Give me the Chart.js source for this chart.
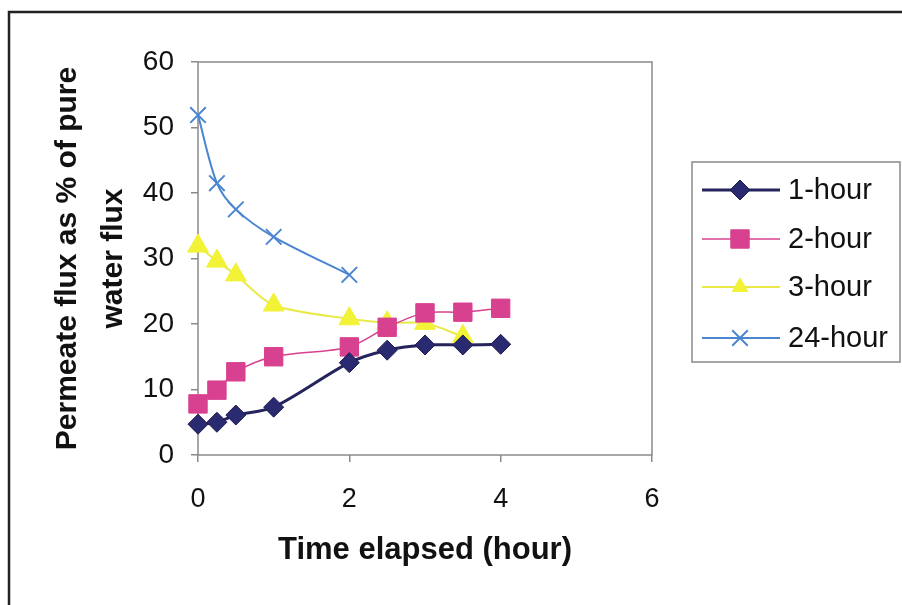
<!DOCTYPE html>
<html>
<head>
<meta charset="utf-8">
<script src="https://cdn.jsdelivr.net/npm/chart.js@4/dist/chart.umd.min.js"></script>
<style>
  html, body { margin: 0; padding: 0; background: #fff; }
  #wrap { width: 902px; height: 605px; }
</style>
</head>
<body>
<div id="wrap"><canvas id="grafico" width="902" height="605"></canvas></div>
<script>
// datos
const horas = [0, 0.25, 0.5, 1, 2, 2.5, 3, 3.5, 4];
const flujo1h = [4.7, 5.0, 6.1, 7.3, 14.1, 16.0, 16.8, 16.8, 16.9];
const flujo2h = [7.8, 9.9, 12.7, 15.0, 16.5, 19.5, 21.7, 21.8, 22.4];
const horas3h = [0, 0.25, 0.5, 1, 2, 2.5, 3, 3.5];
const flujo3h = [31.9, 29.6, 27.5, 22.9, 20.8, 20.2, 20.1, 18.1];
const horas24h = [0, 0.25, 0.5, 1, 2];
const flujo24h = [51.9, 41.5, 37.5, 33.3, 27.5];
const etiquetas = ["1-hour", "2-hour", "3-hour", "24-hour"];
const ticksX = [0, 2, 4, 6];

function pares(xs, ys) {
    return xs.map((x, i) => ({ x: x, y: ys[i] }));
}

const fuente = "'Liberation Sans', Arial, sans-serif";

// marco exterior y borde del area del grafico
const marco = {
    id: 'marco',
    beforeDraw(chart) {
        const ctx = chart.ctx;
        ctx.save();
        ctx.fillStyle = '#fff';
        ctx.fillRect(0, 0, chart.width, chart.height);
        ctx.strokeStyle = '#222';
        ctx.lineWidth = 2.5;
        ctx.beginPath();
        ctx.moveTo(9, 605);
        ctx.lineTo(9, 12);
        ctx.lineTo(902, 12);
        ctx.stroke();
        ctx.restore();
    },
    beforeDatasetsDraw(chart) {
        const a = chart.chartArea;
        const ctx = chart.ctx;
        ctx.save();
        ctx.strokeStyle = '#8a8a8a';
        ctx.lineWidth = 1.5;
        ctx.strokeRect(a.left, a.top, a.right - a.left, a.bottom - a.top);
        ctx.restore();
    }
};

// leyenda con linea y marcador como en Excel
const leyenda = {
    id: 'leyenda',
    afterDraw(chart) {
        const ctx = chart.ctx;
        ctx.save();
        ctx.strokeStyle = '#8a8a8a';
        ctx.lineWidth = 1.5;
        ctx.strokeRect(692, 162, 208, 200);
        const filas = [190, 239, 287, 338];
        chart.data.datasets.forEach((ds, i) => {
            const y = filas[i];
            ctx.strokeStyle = ds.borderColor;
            ctx.lineWidth = ds.borderWidth;
            ctx.beginPath();
            ctx.moveTo(702, y);
            ctx.lineTo(780, y);
            ctx.stroke();
            ctx.fillStyle = ds.pointBackgroundColor;
            ctx.strokeStyle = ds.pointBorderColor;
            ctx.lineWidth = ds.pointBorderWidth;
            Chart.helpers.drawPoint(ctx, {
                pointStyle: ds.pointStyle,
                radius: ds.pointStyle === 'triangle' ? 9 : ds.pointRadius,
                rotation: 0,
                borderWidth: ds.pointBorderWidth
            }, 740, y);
            ctx.fillStyle = '#111';
            ctx.font = '29px ' + fuente;
            ctx.textBaseline = 'middle';
            ctx.textAlign = 'left';
            ctx.fillText(ds.label, 788, y + 1);
        });
        ctx.restore();
    }
};

const ctx = document.getElementById('grafico');

let grafico = new Chart(ctx, {
    type: 'line',
    data: {
        datasets: [{
            label: etiquetas[0],
            data: pares(horas, flujo1h),
            borderColor: '#25245e',
            borderWidth: 3,
            pointStyle: 'rectRot',
            pointRadius: 10,
            pointBackgroundColor: '#2a2a70',
            pointBorderColor: '#1d1d50',
            pointBorderWidth: 1
        }, {
            label: etiquetas[1],
            data: pares(horas, flujo2h),
            borderColor: '#d8418f',
            borderWidth: 1.5,
            pointStyle: 'rect',
            pointRadius: 13,
            pointBackgroundColor: '#d8418f',
            pointBorderColor: '#d8418f',
            pointBorderWidth: 1
        }, {
            label: etiquetas[2],
            data: pares(horas3h, flujo3h),
            borderColor: '#e9ea4a',
            borderWidth: 2,
            pointStyle: 'triangle',
            pointRadius: 12,
            pointBackgroundColor: '#f2f236',
            pointBorderColor: '#f2f236',
            pointBorderWidth: 1
        }, {
            label: etiquetas[3],
            data: pares(horas24h, flujo24h),
            borderColor: '#4a86d0',
            borderWidth: 2,
            pointStyle: 'crossRot',
            pointRadius: 11,
            pointBackgroundColor: '#4a86d0',
            pointBorderColor: '#4a86d0',
            pointBorderWidth: 2
        }]
    },
    options: {
        responsive: false,
        animation: false,
        layout: { padding: { left: 0, right: 250, top: 62, bottom: 0 } },
        elements: { line: { tension: 0.3 } },
        datasets: { line: { clip: false } },
        plugins: {
            legend: { display: false },
            tooltip: { enabled: false }
        },
        scales: {
            x: {
                type: 'linear',
                min: 0,
                max: 6,
                afterBuildTicks: (s) => { s.ticks = ticksX.map(v => ({ value: v })); },
                afterFit: (s) => { s.height = 150; },
                grid: { drawOnChartArea: false, tickLength: 7, color: '#8a8a8a', lineWidth: 1.5 },
                border: { display: false },
                ticks: { color: '#111', padding: 21, font: { family: fuente, size: 27 } },
                title: {
                    display: true,
                    text: 'Time elapsed (hour)',
                    color: '#111',
                    font: { family: fuente, size: 31, weight: 'bold' },
                    padding: { top: 0, bottom: 36 }
                }
            },
            y: {
                min: 0,
                max: 60,
                ticks: { stepSize: 10, color: '#111', padding: 17, font: { family: fuente, size: 28 } },
                afterFit: (s) => { s.width = 198; },
                grid: { drawOnChartArea: false, tickLength: 7, color: '#8a8a8a', lineWidth: 1.5 },
                border: { display: false },
                title: {
                    display: true,
                    text: ['Permeate flux as % of pure', 'water flux'],
                    color: '#111',
                    font: { family: fuente, size: 30, weight: 'bold', lineHeight: 1.53 },
                    padding: { top: 45, bottom: 0 }
                }
            }
        }
    },
    plugins: [marco, leyenda]
});
</script>
</body>
</html>
